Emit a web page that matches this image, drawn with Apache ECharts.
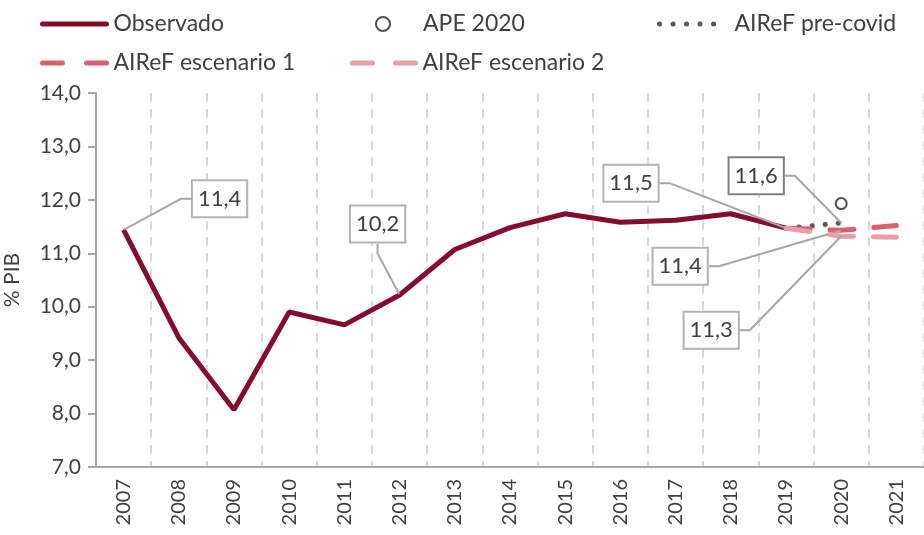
<!DOCTYPE html>
<html>
<head>
<meta charset="utf-8">
<script src="https://cdn.jsdelivr.net/npm/echarts@6/dist/echarts.min.js"></script>
<style>
  html, body { margin: 0; padding: 0; background: #fff; }
  #chart { width: 924px; height: 535px; }
</style>
</head>
<body>
<div id="chart"></div>
<script>
// datos (% PIB)
var years = ['2007', '2008', '2009', '2010', '2011', '2012', '2013', '2014', '2015', '2016', '2017', '2018', '2019', '2020', '2021'];
var observado = [11.44, 9.42, 8.07, 9.9, 9.66, 10.22, 11.07, 11.48, 11.74, 11.58, 11.62, 11.74, 11.47, '-', '-'];
var ape2020 = ['-', '-', '-', '-', '-', '-', '-', '-', '-', '-', '-', '-', '-', 11.93, '-'];
var preCovid = ['-', '-', '-', '-', '-', '-', '-', '-', '-', '-', '-', '-', 11.47, 11.57, '-'];
var escenario1 = ['-', '-', '-', '-', '-', '-', '-', '-', '-', '-', '-', '-', 11.47, 11.43, 11.52];
var escenario2 = ['-', '-', '-', '-', '-', '-', '-', '-', '-', '-', '-', '-', 11.47, 11.32, 11.30];

var FONT = 'Lato';
var TXT = '#404040';

function fmt(v) {
  return v.toFixed(1).replace('.', ',');
}

// etiqueta en cuadro, desplazada con labelLayout
function boxLabel(borderColor) {
  return {
    show: true,
    position: 'inside',
    formatter: function (p) { return fmt(p.value); },
    fontFamily: FONT,
    fontSize: 22,
    lineHeight: 24,
    color: TXT,
    backgroundColor: '#fff',
    borderColor: borderColor || '#b3b3b3',
    borderWidth: 2,
    padding: [6, 5, 5, 5]
  };
}

function withLabel(arr, idx, label) {
  return arr.map(function (v, i) {
    if (idx.indexOf(i) >= 0) return { value: v, label: label };
    return v;
  });
}

var leader = { show: true, length2: 10, lineStyle: { color: '#a6a6a6', width: 2 } };

var chart = echarts.init(document.getElementById('chart'));

var hideSym = { color: 'rgba(0,0,0,0)', borderWidth: 0, opacity: 0 };
function legendText(padLeft) {
  return { fontFamily: FONT, fontSize: 23, lineHeight: 26, color: TXT, padding: [0, 0, 0, padLeft || 0] };
}
var legendBase = {
  padding: 0,
  itemHeight: 14,
  selectedMode: false,
  lineStyle: { width: 5, cap: 'round' }
};

chart.setOption({
  animation: false,
  textStyle: { fontFamily: FONT },
  legend: [
    Object.assign({}, legendBase, { left: 40, top: 11, itemWidth: 64, textStyle: legendText(2),
      data: [{ name: 'Observado', itemStyle: hideSym }] }),
    Object.assign({}, legendBase, { left: 375, top: 11, itemWidth: 14, textStyle: legendText(28),
      data: ['APE 2020'] }),
    Object.assign({}, legendBase, { left: 657, top: 11, itemWidth: 56, textStyle: legendText(14),
      data: [{ name: 'AIReF pre-covid', itemStyle: hideSym, lineStyle: { type: [0.1, 13.4] } }] }),
    Object.assign({}, legendBase, { left: 40, top: 50, itemWidth: 64, textStyle: legendText(2),
      data: [{ name: 'AIReF escenario 1', itemStyle: hideSym, lineStyle: { type: [20, 24] } }] }),
    Object.assign({}, legendBase, { left: 350, top: 50, itemWidth: 63, textStyle: legendText(2),
      data: [{ name: 'AIReF escenario 2', itemStyle: hideSym, lineStyle: { type: [20, 23] } }] })
  ],
  grid: { left: 96, right: 0, top: 93, bottom: 68, outerBoundsMode: 'none' },
  xAxis: {
    type: 'category',
    data: years,
    boundaryGap: true,
    axisLine: { lineStyle: { color: '#a6a6a6', width: 2 } },
    axisTick: { show: false },
    axisLabel: { rotate: 90, fontSize: 20, color: TXT, fontFamily: FONT, margin: 12, interval: 0 },
    splitLine: { show: true, interval: 0, lineStyle: { color: '#d9d9d9', width: 2, type: [9, 7] } }
  },
  yAxis: {
    type: 'value',
    min: 7,
    max: 14,
    interval: 1,
    name: '% PIB',
    nameLocation: 'middle',
    nameRotate: 90,
    nameGap: 73,
    nameTextStyle: { fontSize: 21, color: TXT, fontFamily: FONT },
    axisLine: { show: true, lineStyle: { color: '#a6a6a6', width: 2 } },
    axisTick: { show: true, length: 8, lineStyle: { color: '#a6a6a6', width: 2 } },
    axisLabel: { fontSize: 21, color: TXT, fontFamily: FONT, margin: 15, formatter: fmt },
    splitLine: { show: false }
  },
  series: [
    {
      name: 'Observado',
      type: 'line',
      data: withLabel(observado, [0, 5, 12], boxLabel()),
      symbol: 'circle',
      symbolSize: 1,
      showSymbol: true,
      lineStyle: { color: '#850c2c', width: 5 },
      itemStyle: { color: '#850c2c' },
      labelLine: leader,
      labelLayout: function (p) {
        var off = { 0: [96, -31], 5: [-22, -71], 12: [-155, -45] }[p.dataIndex];
        return off ? { dx: off[0], dy: off[1] } : {};
      },
      z: 2
    },
    {
      name: 'AIReF pre-covid',
      type: 'line',
      data: withLabel(preCovid, [13], boxLabel('#808080')),
      symbol: 'circle',
      symbolSize: 1,
      showSymbol: true,
      lineStyle: { color: '#595959', width: 5, type: [0.1, 13], cap: 'round' },
      itemStyle: { color: '#595959' },
      labelLine: leader,
      labelLayout: function (p) {
        return p.dataIndex === 13 ? { dx: -85, dy: -47 } : {};
      },
      z: 3
    },
    {
      name: 'AIReF escenario 1',
      type: 'line',
      data: withLabel(escenario1, [13], boxLabel()),
      symbol: 'circle',
      symbolSize: 1,
      showSymbol: true,
      lineStyle: { color: '#d9606e', width: 5, type: [24, 20], cap: 'round' },
      itemStyle: { color: '#d9606e' },
      labelLine: leader,
      labelLayout: function (p) {
        return p.dataIndex === 13 ? { dx: -161, dy: 36 } : {};
      },
      z: 4
    },
    {
      name: 'AIReF escenario 2',
      type: 'line',
      data: withLabel(escenario2, [13], boxLabel()),
      symbol: 'circle',
      symbolSize: 1,
      showSymbol: true,
      lineStyle: { color: '#e8a0a8', width: 5, type: [24, 20], cap: 'round' },
      itemStyle: { color: '#e8a0a8' },
      labelLine: leader,
      labelLayout: function (p) {
        return p.dataIndex === 13 ? { dx: -130, dy: 94 } : {};
      },
      z: 5
    },
    {
      name: 'APE 2020',
      type: 'scatter',
      data: ape2020,
      symbol: 'emptyCircle',
      symbolSize: 11,
      itemStyle: { color: '#262626', borderWidth: 2 },
      z: 6
    }
  ]
});
</script>
</body>
</html>
